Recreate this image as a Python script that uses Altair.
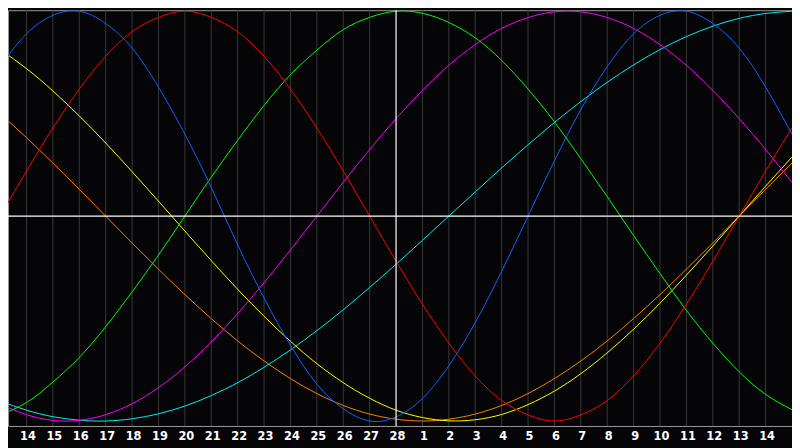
import altair as alt
import pandas as pd

# day index (0 = 13th of first month) and readings of each curve at that day
day_index = list(range(31))

blue = [0.73, 0.89, 0.98, 1.00, 0.94, 0.82, 0.63, 0.40, 0.14, -0.14, -0.40, -0.63, -0.82, -0.94,
        -1.00, -0.98, -0.89, -0.73, -0.52, -0.27, 0.00, 0.27, 0.52, 0.73, 0.89, 0.98, 1.00, 0.94,
        0.82, 0.63, 0.40]
red = [0.00, 0.22, 0.43, 0.62, 0.78, 0.90, 0.97, 1.00, 0.97, 0.90, 0.78, 0.62, 0.43, 0.22,
       0.00, -0.22, -0.43, -0.62, -0.78, -0.90, -0.97, -1.00, -0.97, -0.90, -0.78, -0.62, -0.43,
       -0.22, 0.00, 0.22, 0.43]
green = [-0.97, -0.91, -0.81, -0.69, -0.54, -0.37, -0.19, 0.00, 0.19, 0.37, 0.54, 0.69, 0.81,
         0.91, 0.97, 1.00, 0.99, 0.945, 0.87, 0.76, 0.62, 0.46, 0.28, 0.095, -0.095, -0.28, -0.46,
         -0.62, -0.76, -0.87, -0.945]
magenta = [-0.916, -0.969, -0.997, -0.997, -0.969, -0.916, -0.837, -0.736, -0.614, -0.476, -0.325,
           -0.165, 0.00, 0.165, 0.325, 0.476, 0.614, 0.736, 0.837, 0.916, 0.969, 0.997, 0.997,
           0.969, 0.916, 0.837, 0.736, 0.614, 0.476, 0.325, 0.165]
cyan = [-0.903, -0.947, -0.979, -0.996, -1.00, -0.989, -0.965, -0.927, -0.876, -0.813, -0.738,
        -0.653, -0.559, -0.457, -0.348, -0.235, -0.118, 0.00, 0.118, 0.235, 0.348, 0.457, 0.559,
        0.653, 0.738, 0.813, 0.876, 0.927, 0.965, 0.989, 1.00]
yellow = [0.813, 0.720, 0.611, 0.489, 0.357, 0.217, 0.073, -0.073, -0.217, -0.357, -0.489, -0.611,
          -0.720, -0.813, -0.889, -0.947, -0.983, -0.999, -0.994, -0.968, -0.920, -0.854, -0.769,
          -0.667, -0.552, -0.425, -0.288, -0.146, 0.00, 0.146, 0.288]
orange = [0.50, 0.383, 0.259, 0.131, 0.00, -0.131, -0.259, -0.383, -0.50, -0.609, -0.707, -0.793,
          -0.866, -0.924, -0.966, -0.991, -1.00, -0.991, -0.966, -0.924, -0.866, -0.793, -0.707,
          -0.609, -0.50, -0.383, -0.259, -0.131, 0.00, 0.131, 0.259]

series_names = ["orange", "yellow", "cyan", "magenta", "green", "red", "blue"]
series_colors = ["#ff7f00", "#ffff00", "#00f0f0", "#ff00ff", "#00ff00", "#ff0000", "#0a64ff"]

tick_days = list(range(1, 30))
tick_labels = ["14", "15", "16", "17", "18", "19", "20", "21", "22", "23", "24", "25", "26", "27",
               "28", "1", "2", "3", "4", "5", "6", "7", "8", "9", "10", "11", "12", "13", "14"]
today_index = [15]

values = {"orange": orange, "yellow": yellow, "cyan": cyan, "magenta": magenta,
          "green": green, "red": red, "blue": blue}
rows = []
for name in series_names:
    for d, v in zip(day_index, values[name]):
        rows.append({"day": d, "value": v, "series": name})
curves_df = pd.DataFrame(rows)
ticks_df = pd.DataFrame({"day": tick_days, "label": tick_labels})
grid_df = pd.DataFrame({"day": [d for d in tick_days if d not in today_index]})
today_df = pd.DataFrame({"day": today_index})
zero_df = pd.DataFrame({"value": [0.0]})

xs = alt.Scale(domain=[0.3, 30], nice=False, zero=False)
ys = alt.Scale(domain=[-1.0242, 1.0048], nice=False, zero=False)

grid = alt.Chart(grid_df).mark_rule(color="#3a3a3a", strokeWidth=1).encode(
    x=alt.X("day:Q", scale=xs, axis=None)
)

curves = alt.Chart(curves_df).mark_line(strokeWidth=1, interpolate="natural", clip=True).encode(
    x=alt.X("day:Q", scale=xs, axis=None),
    y=alt.Y("value:Q", scale=ys, axis=None),
    color=alt.Color("series:N", scale=alt.Scale(domain=series_names, range=series_colors),
                    legend=None),
    order=alt.Order("day:Q"),
)

today = alt.Chart(today_df).mark_rule(color="#ffffff", strokeWidth=1.2).encode(
    x=alt.X("day:Q", scale=xs, axis=None)
)
zero = alt.Chart(zero_df).mark_rule(color="#ffffff", strokeWidth=1.2).encode(
    y=alt.Y("value:Q", scale=ys, axis=None)
)

labels = alt.Chart(ticks_df).mark_text(
    color="#ffffff", font="DejaVu Sans", fontSize=11.5, fontWeight="bold",
    baseline="middle", align="center", dx=1.5
).encode(
    x=alt.X("day:Q", scale=xs, axis=None),
    y=alt.value(431),
    text="label:N",
)

chart = alt.layer(grid, curves, today, zero, labels).properties(
    width=792, height=420,
    autosize=alt.AutoSizeParams(type="none"),
    padding={"left": 0, "top": 0, "right": 0, "bottom": 20},
    background="#050508",
).configure_view(stroke="#9a9a9a", strokeWidth=1)

chart.save("out.html", embed_options={"renderer": "svg", "actions": False})
